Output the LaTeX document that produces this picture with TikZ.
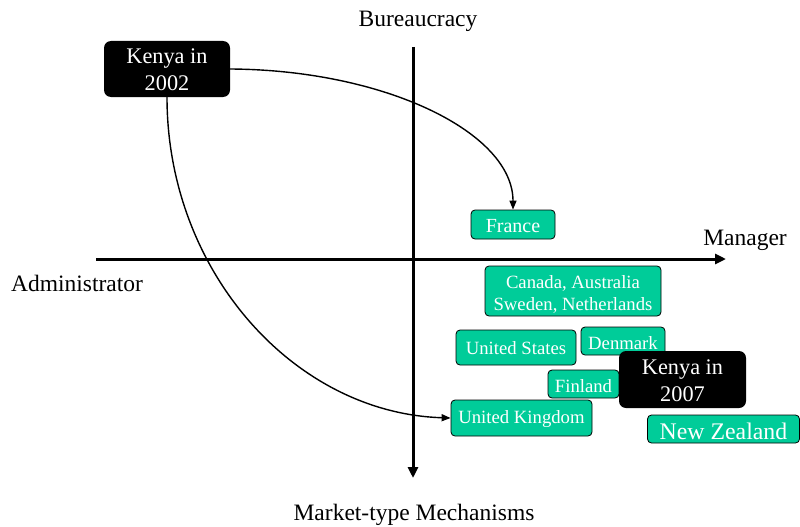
\documentclass[tikz,border=0pt]{standalone}
\usepackage{fontspec}
\setmainfont{Liberation Serif}
\usetikzlibrary{arrows.meta}
\definecolor{teal1}{HTML}{00CC99}
\newcommand\txtdown[2]{\raisebox{-#1}[\height][\depth]{#2}}
\begin{document}
\begin{tikzpicture}[x=1pt,y=-1pt,
  cbox/.style={draw=black,line width=0.8pt,fill=teal1,rounded corners=4pt,text=white,inner sep=0pt,align=center,font=\fontsize{18.7}{22}\selectfont},
  kbox/.style={fill=black,rounded corners=7pt,text=white,inner sep=0pt,align=center,font=\fontsize{22.3}{27}\selectfont},
  lbl/.style={font=\fontsize{23.5}{28}\selectfont,inner sep=0pt},
  axis/.style={line width=3pt,-{Triangle[length=11pt,width=10pt]}},
  conn/.style={line width=1.4pt,-{Triangle[length=9pt,width=7pt]}}]
\useasboundingbox (0,0) rectangle (800,527);
\draw[axis] (96,259) -- (726,259);
\draw[axis] (413,47) -- (413,478);
\node[lbl] (bur) at (418,21) {Bureaucracy};
\node[lbl] (man) at (745,240) {Manager};
\node[lbl] (adm) at (77,283) {Administrator};
\node[lbl] (mkt) at (414,515) {Market-type Mechanisms};
\node[kbox,minimum width=126pt,minimum height=56pt] (k02) at (167,69) {\txtdown{3pt}{\begin{tabular}{@{}c@{}}Kenya in\\2002\end{tabular}}};
\node[cbox,minimum width=84pt,minimum height=29pt,font=\fontsize{20}{24}\selectfont] (fr) at (513,224.5) {\txtdown{1.5pt}{France}};
\node[cbox,minimum width=176pt,minimum height=50pt] (ca) at (573,291) {\txtdown{4pt}{\begin{tabular}{@{}c@{}}Canada, Australia\\Sweden, Netherlands\end{tabular}}};
\node[cbox,minimum width=120pt,minimum height=35pt] (us) at (516,347.5) {\txtdown{1pt}{United States}};
\node[cbox,minimum width=84pt,minimum height=28pt] (dk) at (623,341) {\txtdown{2pt}{Denmark}};
\node[cbox,minimum width=71pt,minimum height=28pt] (fi) at (583.5,384) {\txtdown{2pt}{Finland}};
\node[kbox,minimum width=127pt,minimum height=57pt] (k07) at (682.5,379.5) {\txtdown{3pt}{\begin{tabular}{@{}c@{}}Kenya in\\2007\end{tabular}}};
\node[cbox,minimum width=141pt,minimum height=36pt] (uk) at (521.5,418) {\txtdown{1pt}{United Kingdom}};
\node[cbox,minimum width=152pt,minimum height=28pt,font=\fontsize{23.8}{26}\selectfont] (nz) at (723.5,429) {\txtdown{2pt}{New Zealand}};
\draw[conn] (k02.east) .. controls (386,70) and (513,133) .. (fr.north);
\draw[conn] (k02.south) .. controls (167,271) and (294,413) .. (uk.west);
\end{tikzpicture}
\end{document}
